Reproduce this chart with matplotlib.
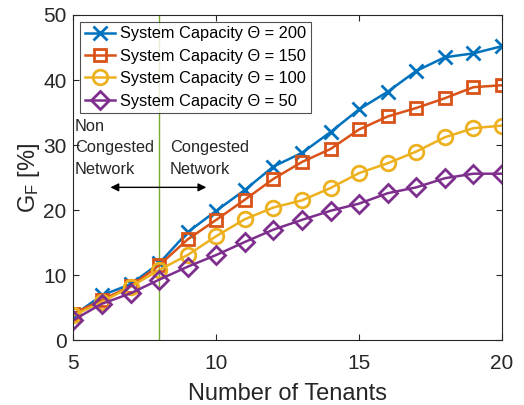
import matplotlib
matplotlib.use('Agg')
import matplotlib.pyplot as plt

plt.rcParams['font.family'] = ['Liberation Sans', 'DejaVu Sans']
plt.rcParams['mathtext.fontset'] = 'custom'
plt.rcParams['mathtext.rm'] = 'Liberation Sans'
plt.rcParams['mathtext.it'] = 'Liberation Sans:italic'

tenants = list(range(5, 21))
g200 = [3.8, 6.9, 8.6, 11.8, 16.6, 19.9, 23.1, 26.7, 28.8, 32.0, 35.5, 38.2, 41.4, 43.5, 44.1, 45.2]
g150 = [4.1, 6.2, 8.3, 11.5, 15.5, 18.5, 21.6, 24.8, 27.4, 29.4, 32.4, 34.4, 35.7, 37.2, 38.9, 39.2]
g100 = [3.8, 5.9, 8.2, 10.8, 13.1, 16.0, 18.6, 20.4, 21.5, 23.4, 25.7, 27.2, 29.0, 31.2, 32.6, 33.0]
g50 = [3.1, 5.6, 7.2, 9.3, 11.3, 13.1, 15.1, 17.0, 18.5, 19.9, 21.0, 22.6, 23.5, 24.9, 25.6, 25.6]
labels = ['System Capacity \u0398 = 200', 'System Capacity \u0398 = 150',
          'System Capacity \u0398 = 100', 'System Capacity \u0398 = 50']

fig = plt.figure(figsize=(5.24, 4.05), dpi=100)
ax = fig.add_axes([0.140, 0.160, 0.818, 0.803])

ax.axvline(8, color='#77AC30', lw=1)
ax.plot(tenants, g200, color='#0072BD', marker='x', ms=10, mew=2, lw=1.8, label=labels[0])
ax.plot(tenants, g150, color='#D95319', marker='s', ms=9, mew=2, mfc='none', lw=1.8, label=labels[1])
ax.plot(tenants, g100, color='#EDB120', marker='o', ms=10.5, mew=2, mfc='none', lw=1.8, label=labels[2])
ax.plot(tenants, g50, color='#7E2F8E', marker='D', ms=9.5, mew=2, mfc='none', lw=1.8, label=labels[3])

ax.text(5.06, 29.6, 'Non\nCongested\nNetwork', fontsize=11.8, va='center', ha='left', linespacing=1.55,
        color='#262626')
ax.text(8.38, 27.9, 'Congested\nNetwork', fontsize=11.8, va='center', ha='left', linespacing=1.55,
        color='#262626')
ax.annotate('', xy=(6.2, 23.5), xytext=(9.75, 23.5),
            arrowprops=dict(arrowstyle='<|-|>', color='black', lw=1, mutation_scale=12))

ax.set_xlim(5, 20)
ax.set_ylim(0, 50)
ax.set_xticks([5, 10, 15, 20])
ax.set_yticks([0, 10, 20, 30, 40, 50])
ax.tick_params(direction='in', top=True, right=True, labelsize=15, colors='#262626', length=4)
ax.tick_params(axis='x', pad=10)
ax.tick_params(axis='y', pad=5)
for s in ax.spines.values():
    s.set_color('#262626')
    s.set_linewidth(0.8)
ax.set_xlabel('Number of Tenants', fontsize=17, color='#262626', labelpad=7)
ax.set_ylabel('G$_\\mathrm{F}$ [%]', fontsize=17, color='#262626', labelpad=1)

leg = ax.legend(loc='upper left', fontsize=11.8, fancybox=False, edgecolor='#262626',
                handlelength=1.85, borderpad=0.3, labelspacing=0.45, handletextpad=0.3,
                borderaxespad=0.4)
leg.get_frame().set_linewidth(0.8)

fig.savefig('out.png', dpi=100)
